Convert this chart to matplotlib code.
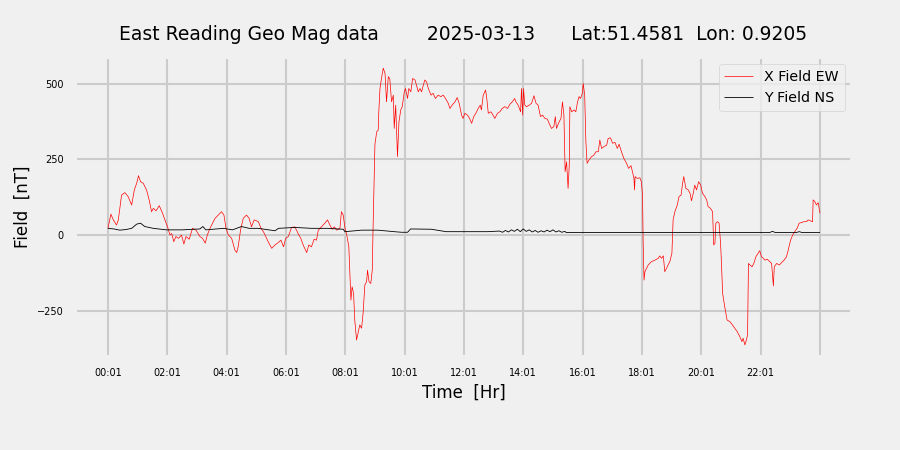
import numpy as np
import matplotlib
matplotlib.use("Agg")
import matplotlib.pyplot as plt

# X field (EW) readings, hour of day vs nT
x_hours = [0.00, 0.10, 0.18, 0.29, 0.35, 0.46, 0.57, 0.68, 0.80, 0.89, 0.97, 1.03, 1.10, 1.19, 1.30,
           1.39, 1.47, 1.53, 1.62, 1.73, 1.84, 1.92, 2.01, 2.09, 2.15, 2.22, 2.29, 2.38, 2.48, 2.56,
           2.63, 2.74, 2.85, 2.97, 3.10, 3.19, 3.28, 3.35, 3.44, 3.61, 3.72, 3.83, 3.91, 3.98, 4.06,
           4.17, 4.28, 4.34, 4.39, 4.47, 4.56, 4.67, 4.76, 4.84, 4.93, 5.07, 5.16, 5.24, 5.32, 5.40,
           5.52, 5.63, 5.74, 5.83, 5.92, 5.99, 6.08, 6.19, 6.30, 6.41, 6.50, 6.58, 6.70, 6.77, 6.86,
           6.95, 7.03, 7.09, 7.20, 7.31, 7.40, 7.48, 7.56, 7.63, 7.71, 7.82, 7.87, 7.93, 7.99, 8.04,
           8.12, 8.19, 8.23, 8.28, 8.32, 8.38, 8.44, 8.49, 8.55, 8.60, 8.66, 8.72, 8.75, 8.80, 8.86,
           8.91, 8.94, 9.00, 9.06, 9.11, 9.13, 9.17, 9.22, 9.28, 9.34, 9.39, 9.45, 9.50, 9.56, 9.62,
           9.65, 9.70, 9.73, 9.76, 9.81, 9.87, 9.92, 9.99, 10.03, 10.10, 10.14, 10.21, 10.27, 10.35,
           10.40, 10.46, 10.52, 10.57, 10.63, 10.68, 10.74, 10.80, 10.89, 10.96, 11.04, 11.13, 11.22,
           11.30, 11.38, 11.47, 11.53, 11.60, 11.70, 11.77, 11.84, 11.92, 11.97, 12.03, 12.12, 12.19,
           12.26, 12.33, 12.40, 12.48, 12.55, 12.59, 12.65, 12.73, 12.77, 12.82, 12.91, 12.98, 13.04,
           13.13, 13.21, 13.29, 13.38, 13.47, 13.55, 13.63, 13.71, 13.75, 13.83, 13.91, 13.94, 13.98,
           14.01, 14.05, 14.11, 14.20, 14.28, 14.36, 14.43, 14.50, 14.58, 14.65, 14.73, 14.81, 14.87,
           14.95, 15.03, 15.08, 15.12, 15.21, 15.27, 15.32, 15.37, 15.41, 15.46, 15.51, 15.55, 15.57,
           15.63, 15.71, 15.77, 15.83, 15.88, 15.93, 15.99, 16.02, 16.07, 16.11, 16.15, 16.22, 16.30,
           16.38, 16.45, 16.53, 16.58, 16.64, 16.72, 16.81, 16.86, 16.94, 17.01, 17.09, 17.17, 17.23,
           17.31, 17.39, 17.48, 17.55, 17.63, 17.68, 17.73, 17.75, 17.77, 17.84, 17.93, 17.98, 18.02,
           18.04, 18.07, 18.10, 18.21, 18.32, 18.44, 18.55, 18.60, 18.66, 18.72, 18.77, 18.83, 18.88,
           18.94, 19.01, 19.05, 19.11, 19.19, 19.25, 19.32, 19.37, 19.41, 19.48, 19.56, 19.62, 19.67,
           19.73, 19.78, 19.84, 19.91, 19.98, 20.04, 20.12, 20.18, 20.23, 20.31, 20.38, 20.42, 20.46,
           20.49, 20.55, 20.60, 20.65, 20.68, 20.72, 20.79, 20.87, 20.96, 21.05, 21.13, 21.21, 21.30,
           21.37, 21.41, 21.47, 21.52, 21.56, 21.59, 21.64, 21.71, 21.77, 21.84, 21.92, 21.97, 22.03,
           22.09, 22.14, 22.22, 22.31, 22.37, 22.43, 22.46, 22.54, 22.63, 22.71, 22.79, 22.87, 22.93,
           23.01, 23.08, 23.15, 23.23, 23.30, 23.38, 23.46, 23.55, 23.60, 23.68, 23.75, 23.77, 23.83,
           23.88, 23.94, 24.00]
x_field = [22, 69, 50, 33, 50, 132, 140, 127, 99, 149, 171, 196, 176, 171, 149,
           116, 77, 88, 80, 97, 72, 50, 27, 0, 5, -22, -5, -11, 0, -30,
           -5, -14, 22, 16, -5, -11, -27, 0, 22, 55, 66, 77, 66, 22, 0,
           -11, -50, -58, -39, 16, 55, 66, 55, 27, 50, 44, 22, 11, -5, -22,
           -44, -33, -25, -17, -39, -11, -5, 25, 27, 5, -11, -33, -58, -33, -39,
           -14, -17, 16, 27, 39, 50, 33, 19, 27, 16, 22, 77, 66, 22, 5,
           -39, -215, -171, -193, -281, -347, -319, -297, -308, -259, -165, -154, -116, -154, -160,
           -116, 39, 300, 341, 347, 407, 484, 517, 551, 534, 440, 523, 517, 440, 462,
           352, 429, 341, 259, 374, 413, 424, 473, 484, 451, 484, 473, 517, 512,
           495, 473, 484, 473, 495, 512, 506, 484, 462, 468, 451, 462, 457,
           462, 451, 435, 418, 429, 440, 454, 435, 396, 385, 402, 396, 385,
           369, 391, 402, 418, 429, 413, 462, 479, 451, 402, 407, 396, 385,
           402, 407, 418, 424, 418, 432, 440, 451, 440, 429, 407, 484, 396,
           484, 429, 424, 429, 435, 460, 435, 429, 391, 396, 385, 383, 369,
           352, 358, 391, 352, 374, 385, 440, 396, 209, 242, 154, 231, 424,
           407, 413, 407, 440, 457, 451, 468, 501, 462, 308, 237, 248, 259,
           264, 275, 275, 314, 286, 292, 297, 319, 321, 303, 306, 286, 300,
           275, 253, 237, 220, 229, 209, 187, 149, 193, 187, 189, 176, 132,
           -22, -149, -121, -99, -88, -83, -77, -69, -77, -69, -121, -110, -99,
           -88, -60, 50, 77, 99, 127, 132, 171, 193, 154, 149, 138, 113,
           138, 165, 149, 176, 165, 138, 127, 116, 94, 88, 77, -33, -27,
           39, 44, 39, -27, -94, -193, -237, -281, -286, -297, -308, -319, -336,
           -352, -341, -363, -347, -330, -94, -99, -105, -94, -72, -60, -52, -72,
           -77, -83, -80, -88, -94, -168, -105, -94, -99, -91, -83, -72, -50,
           -17, 0, 11, 22, 39, 41, 44, 44, 50, 47, 44, 116, 110,
           99, 107, 72]

# Y field (NS) readings
y_hours = [0.0, 0.2, 0.4, 0.6, 0.8, 0.97, 1.1, 1.24, 1.53, 1.97, 2.5, 3.1, 3.2, 3.3, 3.9, 4.2, 4.5,
           4.76, 5.07, 5.63, 5.75, 6.3, 6.86, 7.4, 7.93, 7.99, 8.55, 9.1, 9.65, 9.9, 10.1, 10.2,
           10.9, 11.4, 12.0, 12.8, 13.2, 13.3, 13.4, 13.5, 13.6, 13.7, 13.8, 13.9, 14.0, 14.1,
           14.2, 14.3, 14.4, 14.5, 14.6, 14.7, 14.8, 14.9, 15.0, 15.1, 15.2, 15.3, 15.4, 15.45,
           18.0, 22.3, 22.4, 22.5, 23.2, 23.3, 23.4, 24.0]
y_field = [22, 20, 16, 18, 22, 36, 39, 28, 22, 17, 17, 20, 28, 17, 22, 17, 28,
           22, 22, 14, 22, 25, 22, 22, 19, 11, 16, 16, 11, 9, 9, 20,
           19, 11, 11, 11, 13, 9, 15, 10, 17, 12, 19, 11, 20, 12,
           17, 10, 15, 9, 14, 10, 16, 11, 17, 10, 14, 9, 12, 8,
           8, 8, 12, 8, 8, 11, 8, 8]

tick_hours = [0, 2, 4, 6, 8, 10, 12, 14, 16, 18, 20, 22, 24]
tick_labels = ["00:01", "02:01", "04:01", "06:01", "08:01", "10:01",
               "12:01", "14:01", "16:01", "18:01", "20:01", "22:01", ""]

plt.style.use("fivethirtyeight")
plt.rcParams["grid.linewidth"] = 1.5

fig = plt.figure(figsize=(9, 4.5), dpi=100)
ax = fig.add_axes([75 / 900, 93 / 450, 777 / 900, 300 / 450])

ax.plot(x_hours, x_field, color="red", linewidth=0.5, label="X Field EW")
ax.plot(y_hours, y_field, color="black", linewidth=0.6, label="Y Field NS")

ax.set_xlim(-1.11, 25.08)
ax.set_ylim(-403, 588)
ax.set_yticks([-250, 0, 250, 500])
ax.set_xticks(tick_hours)
ax.set_xticklabels(tick_labels)
ax.tick_params(axis="x", labelsize=7, pad=8)
ax.tick_params(axis="y", labelsize=7, pad=8)

ax.set_title("East Reading Geo Mag data        2025-03-13      Lat:51.4581  Lon: 0.9205",
             fontsize=13.5, pad=12)
ax.set_xlabel("Time  [Hr]", fontsize=12)
ax.set_ylabel("Field  [nT]", fontsize=12)
ax.legend(loc="upper right", fontsize=10.3)

fig.savefig("out.png", dpi=100)
